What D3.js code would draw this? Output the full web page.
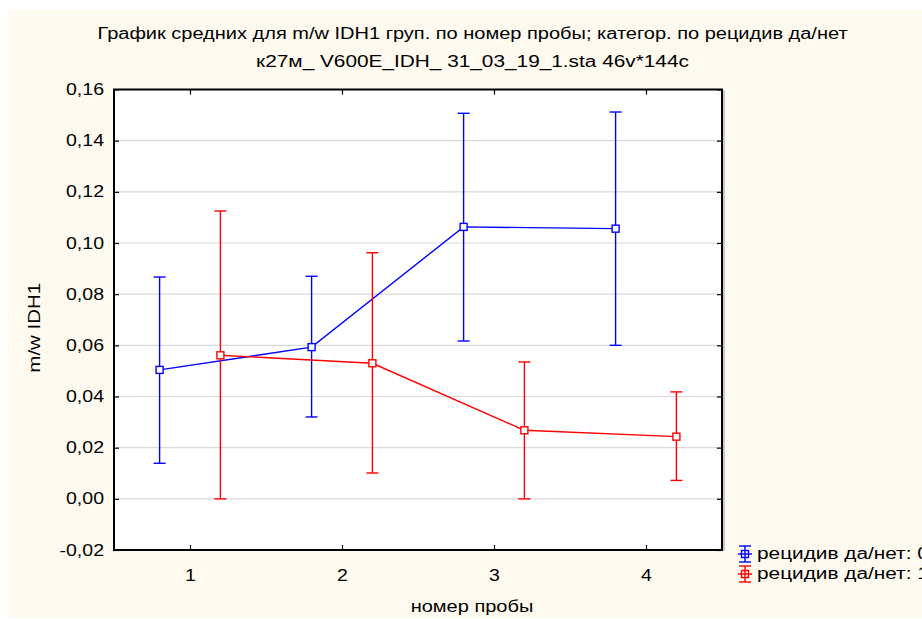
<!DOCTYPE html>
<html><head><meta charset="utf-8">
<script src="https://cdn.jsdelivr.net/npm/d3@7"></script>
<style>html,body{margin:0;padding:0;background:#fff;}svg{display:block;font-family:Arial,"Liberation Sans",sans-serif;}</style>
</head><body>
<script>
// Data
const categories = [1, 2, 3, 4];
const seriesNames = ["рецидив да/нет: 0", "рецидив да/нет: 1"];
const meansNo = [0.0504, 0.0593, 0.1063, 0.1056];
const upperNo = [0.0867, 0.0870, 0.1507, 0.1512];
const lowerNo = [0.0139, 0.0320, 0.0617, 0.0600];
const meansYes = [0.0561, 0.0530, 0.0268, 0.0243];
const upperYes = [0.1125, 0.0962, 0.0535, 0.0418];
const lowerYes = [0.0000, 0.0101, 0.0000, 0.0072];
const yTicks = [-0.02, 0, 0.02, 0.04, 0.06, 0.08, 0.10, 0.12, 0.14, 0.16];
const titleLines = ["График средних для m/w  IDH1 груп. по номер пробы; категор. по рецидив да/нет",
                    "к27м_ V600E_IDH_ 31_03_19_1.sta 46v*144c"];
const xLabel = "номер пробы";
const yLabel = "m/w IDH1";

const W = 922, H = 619;
const colors = ["#0000ff", "#ff0000"];
const offsets = [-0.2, 0.2];
const series = [
  {name: seriesNames[0], mean: meansNo, up: upperNo, lo: lowerNo},
  {name: seriesNames[1], mean: meansYes, up: upperYes, lo: lowerYes}
];
const FS = 16;

function stretch(sel, factor) {
  sel.each(function() {
    const len = this.getComputedTextLength();
    if (len > 0) d3.select(this).attr("textLength", len * factor).attr("lengthAdjust", "spacingAndGlyphs");
  });
}

const svg = d3.select("body").append("svg").attr("width", W).attr("height", H);
svg.append("rect").attr("x", 8).attr("y", 10).attr("width", W - 8).attr("height", H - 11).attr("fill", "#fffaf0");

const L = 114, R = 722, T = 89.5, B = 550;
const x = d3.scaleLinear().domain([0.5, 4.5]).range([L, R]);
const y = d3.scaleLinear().domain([-0.02, 0.16]).range([B, T]);

svg.append("rect").attr("x", L).attr("y", T).attr("width", R - L).attr("height", B - T).attr("fill", "#fff");

// gridlines
svg.append("g").selectAll("line").data(yTicks.filter(t => t > -0.02 && t < 0.16)).join("line")
  .attr("x1", L).attr("x2", R).attr("y1", d => y(d)).attr("y2", d => y(d))
  .attr("stroke", "#d9d9d9").attr("stroke-width", 1.2);

const fmt = d => d3.format(".2f")(d).replace(".", ",").replace("−", "-");
const gl = svg.append("g").attr("transform", `translate(${L},0)`)
  .call(d3.axisLeft(y).tickValues(yTicks).tickSize(-5).tickPadding(10).tickFormat(fmt));
const gr = svg.append("g").attr("transform", `translate(${R},0)`)
  .call(d3.axisRight(y).tickValues(yTicks).tickSize(-5).tickFormat(""));
const gb = svg.append("g").attr("transform", `translate(0,${B})`)
  .call(d3.axisBottom(x).tickValues(categories).tickSize(-5).tickPadding(20).tickFormat(d3.format("d")));
const gt = svg.append("g").attr("transform", `translate(0,${T})`)
  .call(d3.axisTop(x).tickValues(categories).tickSize(-5).tickFormat(""));
[gl, gr, gb, gt].forEach(g => {
  g.select(".domain").remove();
  g.selectAll(".tick line").attr("stroke", "#000").attr("stroke-width", 1.2);
  g.selectAll("text").attr("font-size", FS).attr("fill", "#000").attr("font-family", "Arial, 'Liberation Sans', sans-serif");
});
stretch(gl.selectAll("text"), 1.22);
stretch(gb.selectAll("text"), 1.22);

// frame
svg.append("rect").attr("x", L).attr("y", T).attr("width", R - L).attr("height", B - T)
  .attr("fill", "none").attr("stroke", "#000").attr("stroke-width", 2);
svg.append("line").attr("x1", R + 2).attr("x2", R + 2).attr("y1", T + 1).attr("y2", B + 1).attr("stroke", "#999").attr("stroke-width", 1);

// series
series.forEach((s, i) => {
  const g = svg.append("g");
  const c = colors[i];
  const pts = categories.map((cat, j) => ({xv: cat + offsets[i], m: s.mean[j], u: s.up[j], l: s.lo[j]}));
  g.append("path").datum(pts)
    .attr("d", d3.line().x(d => x(d.xv)).y(d => y(d.m)))
    .attr("fill", "none").attr("stroke", c).attr("stroke-width", 1.4);
  g.selectAll(".eb").data(pts).join("line")
    .attr("x1", d => x(d.xv)).attr("x2", d => x(d.xv)).attr("y1", d => y(d.u)).attr("y2", d => y(d.l))
    .attr("stroke", c).attr("stroke-width", 1.4);
  ["u", "l"].forEach(k => {
    g.selectAll(".cap" + k).data(pts).join("line")
      .attr("x1", d => x(d.xv) - 6).attr("x2", d => x(d.xv) + 6)
      .attr("y1", d => y(d[k])).attr("y2", d => y(d[k]))
      .attr("stroke", c).attr("stroke-width", 1.4);
  });
  g.selectAll("rect").data(pts).join("rect")
    .attr("x", d => x(d.xv) - 3.5).attr("y", d => y(d.m) - 3.5).attr("width", 7).attr("height", 7)
    .attr("fill", "#fff").attr("stroke", c).attr("stroke-width", 1.4);
});

// titles
const tt = svg.append("g").selectAll("text").data(titleLines).join("text")
  .attr("x", 472.5).attr("y", (d, i) => 39 + i * 28).attr("text-anchor", "middle")
  .attr("font-size", FS).attr("fill", "#000").text(d => d);
stretch(tt.filter((d, i) => i === 0), 1.25);
stretch(tt.filter((d, i) => i === 1), 1.3);

const xl = svg.append("text").attr("x", 472).attr("y", 612).attr("text-anchor", "middle")
  .attr("font-size", FS).attr("fill", "#000").text(xLabel);
stretch(xl, 1.25);
const yl = svg.append("text").attr("transform", `translate(40,${(T + B) / 2 + 8}) rotate(-90)`)
  .attr("text-anchor", "middle").attr("font-size", FS).attr("fill", "#000").text(yLabel);
stretch(yl, 1.28);

// legend
const lg = svg.append("g");
series.forEach((s, i) => {
  const cy = 554 + i * 20, cx = 745, c = colors[i];
  const g = lg.append("g");
  g.append("line").attr("x1", cx).attr("x2", cx).attr("y1", cy - 8).attr("y2", cy + 8).attr("stroke", c).attr("stroke-width", 1.4);
  g.append("line").attr("x1", cx - 6).attr("x2", cx + 6).attr("y1", cy - 8).attr("y2", cy - 8).attr("stroke", c).attr("stroke-width", 1.4);
  g.append("line").attr("x1", cx - 6).attr("x2", cx + 6).attr("y1", cy + 8).attr("y2", cy + 8).attr("stroke", c).attr("stroke-width", 1.4);
  g.append("line").attr("x1", cx - 7).attr("x2", cx + 7).attr("y1", cy).attr("y2", cy).attr("stroke", c).attr("stroke-width", 1.4);
  g.append("rect").attr("x", cx - 3.5).attr("y", cy - 3.5).attr("width", 7).attr("height", 7).attr("fill", "none").attr("stroke", c).attr("stroke-width", 1.4);
  const t = g.append("text").attr("x", cx + 12).attr("y", cy + 5).attr("font-size", FS).attr("fill", "#000").text(s.name);
  stretch(t, 1.3);
});
</script>
</body></html>
